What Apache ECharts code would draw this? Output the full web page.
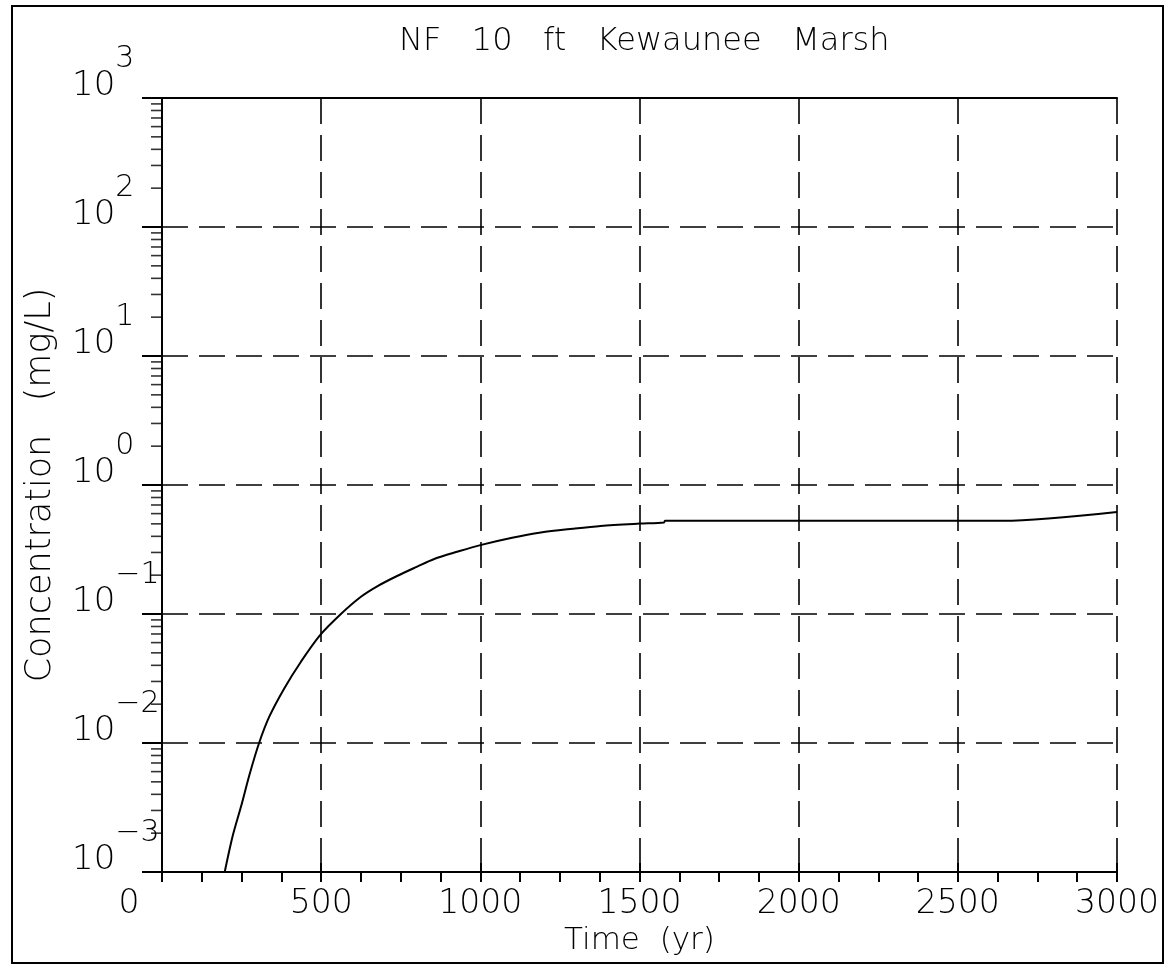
<!DOCTYPE html>
<html>
<head>
<meta charset="utf-8">
<script src="https://cdn.jsdelivr.net/npm/echarts@6/dist/echarts.min.js"></script>
<style>
html, body { margin: 0; padding: 0; background: #fff; }
#chart { width: 1165px; height: 964px; }
</style>
</head>
<body>
<div id="chart"></div>
<script>
// time (yr) and concentration (mg/L)
var years = [197, 222, 248, 275, 305, 337, 384, 436, 496, 562, 625, 680, 740, 800, 855, 930, 1000, 1100, 1190, 1290, 1378, 1500, 1577, 1580, 2640, 3000];
var conc = [0.001, 0.0019, 0.0032, 0.0057, 0.01, 0.016, 0.0265, 0.0425, 0.0683, 0.1, 0.136, 0.166, 0.198, 0.232, 0.267, 0.305, 0.342, 0.39, 0.428, 0.458, 0.482, 0.502, 0.512, 0.528, 0.528, 0.618];

var decades = [-3, -2, -1, 0, 1, 2, 3];
var mantissas = [2, 3, 4, 5, 6, 7, 8, 9];

var FONT = "'DejaVu Sans', sans-serif";

// minor log ticks 2..9 in every decade
var minorTicks = [];
decades.slice(0, -1).forEach(function (d) {
    mantissas.forEach(function (m) {
        minorTicks.push([0, m * Math.pow(10, d)]);
    });
});

var myChart = echarts.init(document.getElementById('chart'));

var dashed = { show: true, lineStyle: { color: '#000', width: 1.6, type: [26, 11] } };

var option = {
    backgroundColor: '#fff',
    animation: false,
    title: {
        text: 'NF   10   ft   Kewaunee   Marsh',
        left: 394,
        top: 21,
        textStyle: { fontFamily: FONT, fontWeight: 200, fontSize: 32, color: '#000' }
    },
    graphic: [{
        type: 'rect',
        shape: { x: 12, y: 6, width: 1151, height: 957 },
        style: { fill: 'none', stroke: '#000', lineWidth: 2 }
    }],
    grid: { left: 162, right: 48, top: 98, bottom: 92 },
    xAxis: [{
        type: 'value',
        min: 0,
        max: 3000,
        interval: 500,
        position: 'bottom',
        name: 'Time  (yr)',
        nameLocation: 'middle',
        nameGap: 47,
        nameTextStyle: { fontFamily: FONT, fontWeight: 200, fontSize: 31, color: '#000' },
        axisLine: { lineStyle: { color: '#000', width: 2 } },
        axisTick: { inside: true, length: 9, lineStyle: { color: '#000', width: 2 } },
        axisLabel: {
            margin: 16,
            fontFamily: FONT, fontWeight: 200, fontSize: 33, color: '#000',
            formatter: function (v) { return v === 0 ? '{z|0}' : String(v); },
            rich: { z: { fontFamily: FONT, fontWeight: 200, fontSize: 33, color: '#000', padding: [0, 66, 0, 0] } }
        },
        splitLine: dashed
    }, {
        type: 'value',
        min: 0,
        max: 3000,
        interval: 125,
        position: 'bottom',
        axisLine: { show: false },
        axisTick: { length: 10, lineStyle: { color: '#000', width: 2 } },
        axisLabel: { show: false },
        splitLine: { show: false }
    }, {
        type: 'value',
        min: 0,
        max: 3000,
        position: 'top',
        axisLine: { lineStyle: { color: '#000', width: 2 } },
        axisTick: { show: false },
        axisLabel: { show: false },
        splitLine: { show: false }
    }],
    yAxis: [{
        type: 'log',
        logBase: 10,
        min: 0.001,
        max: 1000,
        position: 'left',
        name: 'Concentration   (mg/L)',
        nameLocation: 'middle',
        nameGap: 104,
        nameTextStyle: { fontFamily: FONT, fontWeight: 200, fontSize: 35, color: '#000' },
        axisLine: { lineStyle: { color: '#000', width: 2 } },
        axisTick: { length: 20, lineStyle: { color: '#000', width: 2 } },
        axisLabel: {
            align: 'left',
            verticalAlign: 'bottom',
            margin: 90,
            formatter: function (v) {
                var e = Math.round(Math.log10(v));
                return '{b|10}{e|' + (e < 0 ? '\u2212' + (-e) : e) + '}';
            },
            rich: {
                b: { fontFamily: FONT, fontWeight: 200, fontSize: 34, color: '#000', verticalAlign: 'bottom', lineHeight: 54, padding: [0, 0, -5, 0] },
                e: { fontFamily: FONT, fontWeight: 200, fontSize: 30, color: '#000', verticalAlign: 'top' }
            }
        },
        splitLine: dashed
    }, {
        type: 'log',
        logBase: 10,
        min: 0.001,
        max: 1000,
        position: 'right',
        axisLine: { lineStyle: { color: '#000', width: 2 } },
        axisTick: { show: false },
        axisLabel: { show: false },
        splitLine: { show: false }
    }],
    series: [{
        type: 'line',
        data: years.map(function (t, i) { return [t, conc[i]]; }),
        showSymbol: false,
        symbol: 'none',
        smooth: 0.3,
        lineStyle: { color: '#000', width: 2 },
        z: 5
    }, {
        type: 'scatter',
        data: minorTicks,
        symbol: 'rect',
        symbolSize: [11, 1.6],
        symbolOffset: [-5.5, 0],
        itemStyle: { color: '#000' },
        clip: false,
        silent: true,
        z: 6
    }]
};

myChart.setOption(option);
window.onresize = myChart.resize;
</script>
</body>
</html>
